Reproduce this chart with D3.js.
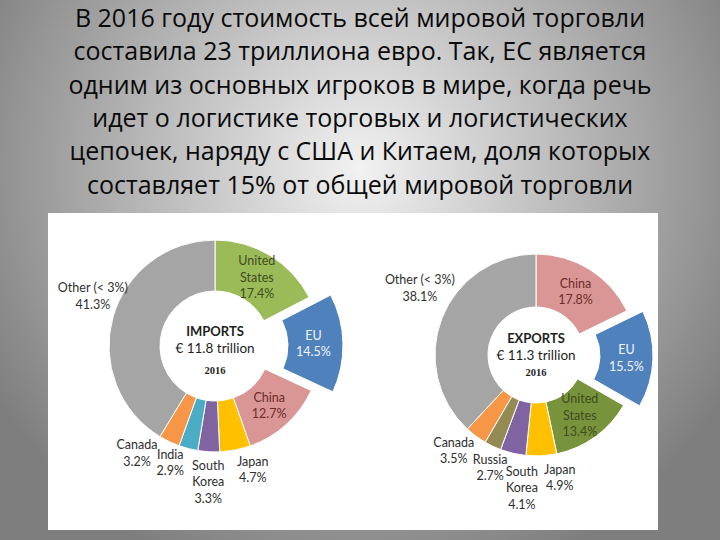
<!DOCTYPE html>
<html>
<head>
<meta charset="utf-8">
<script src="https://cdn.jsdelivr.net/npm/d3@7/dist/d3.min.js"></script>
<style>
  body { margin: 0; }
  svg { display: block; }
</style>
</head>
<body>
<svg width="720" height="540"></svg>
<script>
// ---- data ----
var titleLines = [
    "В 2016 году стоимость всей мировой торговли",
    "составила 23 триллиона евро. Так, ЕС является",
    "одним из основных игроков в мире, когда речь",
    "идет о логистике торговых и логистических",
    "цепочек, наряду с США и Китаем, доля которых",
    "составляет 15% от общей мировой торговли"
];
var importLabels = ["United States", "EU", "China", "Japan", "South Korea", "India", "Canada", "Other (< 3%)"];
var importValues = [17.4, 14.5, 12.7, 4.7, 3.3, 2.9, 3.2, 41.3];
var importCenter = ["IMPORTS", "€ 11.8 trillion", "2016"];

var exportLabels = ["China", "EU", "United States", "Japan", "South Korea", "Russia", "Canada", "Other (< 3%)"];
var exportValues = [17.8, 15.5, 13.4, 4.9, 4.1, 2.7, 3.5, 38.1];
var exportCenter = ["EXPORTS", "€ 11.3 trillion", "2016"];

// ---- styles ----
var importColors = ["#9BBB59", "#4F81BD", "#D99694", "#FFC000", "#8064A2", "#4BACC6", "#F79646", "#A5A5A5"];
var exportColors = ["#D99694", "#4F81BD", "#77933C", "#FFC000", "#8064A2", "#948A54", "#F79646", "#A5A5A5"];
var insideText = { "United States": "#3f4d1e", "EU": "#f2f4ff", "China": "#6e2c2c" };

var svg = d3.select("svg");

// background
var defs = svg.append("defs");
var grad = defs.append("radialGradient")
    .attr("id", "bg")
    .attr("gradientUnits", "userSpaceOnUse")
    .attr("cx", 360).attr("cy", 170).attr("r", 430);
grad.append("stop").attr("offset", 0).attr("stop-color", "#f2f2f2");
grad.append("stop").attr("offset", 1).attr("stop-color", "#7e7e7e");
svg.append("rect").attr("width", 720).attr("height", 540).attr("fill", "url(#bg)");

// title
svg.append("g").selectAll("text")
    .data(titleLines)
    .enter().append("text")
    .attr("x", 360)
    .attr("y", function (d, i) { return 27 + i * 33.3; })
    .attr("text-anchor", "middle")
    .style("font-family", "'Open Sans', 'Noto Sans', sans-serif")
    .style("font-size", "25px")
    .attr("fill", "#0a0a0a")
    .text(function (d) { return d; });

// white panel
svg.append("rect")
    .attr("x", 48).attr("y", 213)
    .attr("width", 610).attr("height", 317)
    .attr("fill", "#fff");

function labelLines(name, v) {
    var val = d3.format(".1f")(v) + "%";
    if (name.indexOf("Other") == 0) return [name, val];
    return name.split(" ").concat([val]);
}

function donut(o) {
    var data = o.labels.map(function (l, i) { return { name: l, value: o.values[i], color: o.colors[i] }; });
    var pie = d3.pie().sort(null).value(function (d) { return d.value; });
    var arcs = pie(data);
    var arc = d3.arc().innerRadius(o.ri).outerRadius(o.ro);
    var arcBig = d3.arc().innerRadius(o.ri).outerRadius(o.ro + o.grow);
    var mid = d3.arc().innerRadius((o.ri + o.ro) / 2).outerRadius((o.ri + o.ro) / 2);
    var outer = d3.arc().innerRadius(o.rl).outerRadius(o.rl);

    var g = svg.append("g").attr("transform", "translate(" + o.cx + "," + o.cy + ")");

    function shift(d) {
        if (d.data.name != "EU") return [0, 0];
        var a = (d.startAngle + d.endAngle) / 2;
        return [o.explode * Math.sin(a), -o.explode * Math.cos(a)];
    }

    g.selectAll("path")
        .data(arcs)
        .enter().append("path")
        .attr("d", function (d) { return d.data.name == "EU" ? arcBig(d) : arc(d); })
        .attr("transform", function (d) { var s = shift(d); return "translate(" + s[0] + "," + s[1] + ")"; })
        .attr("fill", function (d) { return d.data.color; })
        .attr("stroke", "#fff")
        .attr("stroke-width", 1);

    var labels = g.selectAll("g.lab")
        .data(arcs)
        .enter().append("g")
        .attr("class", "lab")
        .attr("transform", function (d, i) {
            var inside = insideText[d.data.name] != null;
            var c = inside ? mid.centroid(d) : outer.centroid(d);
            var s = shift(d);
            var n = inside ? [0, 0] : o.nudge[i];
            return "translate(" + (c[0] + s[0] + n[0]) + "," + (c[1] + s[1] + n[1]) + ")";
        });

    labels.each(function (d) {
        var lines = labelLines(d.data.name, d.data.value);
        var col = insideText[d.data.name] || "#2e2e2e";
        d3.select(this).selectAll("text")
            .data(lines)
            .enter().append("text")
            .attr("x", 0)
            .attr("y", function (t, j) { return (j - (lines.length - 1) / 2) * 16.5; })
            .attr("dy", "0.35em")
            .attr("text-anchor", "middle")
            .style("font-family", "Lato, 'Open Sans', sans-serif")
            .style("font-size", "12.5px")
            .attr("fill", col)
            .text(function (t) { return t; });
    });

    // centre text
    g.append("text").attr("y", o.centerY[0]).attr("dy", "0.35em").attr("text-anchor", "middle")
        .style("font-family", "Lato, sans-serif").style("font-weight", "bold").style("font-size", "13px")
        .attr("fill", "#1e1e1e").text(o.center[0]);
    g.append("text").attr("y", o.centerY[1]).attr("dy", "0.35em").attr("text-anchor", "middle")
        .style("font-family", "Lato, sans-serif").style("font-size", "13.5px")
        .attr("fill", "#1e1e1e").text(o.center[1]);
    g.append("text").attr("y", o.centerY[2]).attr("dy", "0.35em").attr("text-anchor", "middle")
        .style("font-family", "'Liberation Serif', serif").style("font-weight", "bold").style("font-size", "10.5px")
        .attr("fill", "#1e1e1e").text(o.center[2]);
}

donut({
    labels: importLabels, values: importValues, colors: importColors, center: importCenter,
    cx: 215, cy: 346, ri: 55, ro: 106, rl: 130, explode: 18, grow: 4,
    centerY: [-15, 2, 24],
    nudge: [[0, 0], [0, 0], [0, 0], [13, -4], [1, 6], [-12, -9], [-22, -10], [3, -15]]
});

donut({
    labels: exportLabels, values: exportValues, colors: exportColors, center: exportCenter,
    cx: 536, cy: 355, ri: 48, ro: 101, rl: 128, explode: 16, grow: 0,
    centerY: [-17, 0, 17],
    nudge: [[0, 0], [0, 0], [0, 0], [17, -5], [15, 8], [9, -3], [-6, -7], [3, -20]]
});
</script>
</body>
</html>
